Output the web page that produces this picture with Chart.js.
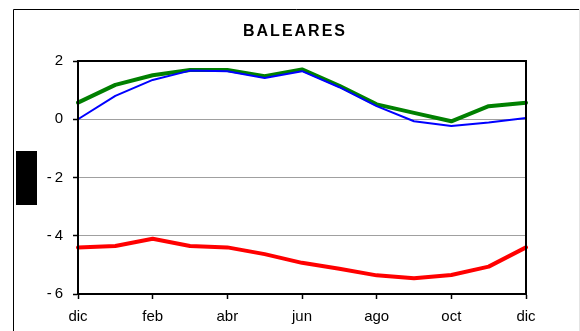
<!DOCTYPE html>
<html>
<head>
<meta charset="utf-8">
<script src="https://cdn.jsdelivr.net/npm/chart.js@4"></script>
<style>
  html, body { margin: 0; padding: 0; background: #fff; }
  #wrap { width: 580px; height: 331px; position: relative; }
</style>
</head>
<body>
<div id="wrap"><canvas id="chart"></canvas></div>
<script>
// months from dic to dic, only every other one gets a label
const months = ['dic', 'ene', 'feb', 'mar', 'abr', 'may', 'jun', 'jul', 'ago', 'sep', 'oct', 'nov', 'dic'];
const yTicks = [2, 0, -2, -4, -6];

const serieVerde = [0.57, 1.18, 1.51, 1.69, 1.69, 1.48, 1.71, 1.15, 0.51, 0.22, -0.07, 0.45, 0.57];
const serieAzul = [0.00, 0.80, 1.35, 1.67, 1.65, 1.42, 1.65, 1.10, 0.45, -0.07, -0.23, -0.11, 0.04];
const serieRoja = [-4.40, -4.35, -4.10, -4.35, -4.40, -4.63, -4.93, -5.13, -5.36, -5.46, -5.35, -5.06, -4.40];

const TITLE = 'BALEARES';
const FONT = '"Liberation Sans", Arial, sans-serif';

// frame around the whole chart, the black block on the left, box round the plot and the title
const decor = {
  id: 'decor',
  beforeDraw(chart) {
    const ctx = chart.ctx;
    ctx.save();
    ctx.fillStyle = '#fff';
    ctx.fillRect(0, 0, chart.width, chart.height);
    ctx.strokeStyle = '#000';
    ctx.lineWidth = 1;
    ctx.beginPath();
    ctx.moveTo(13.5, chart.height);
    ctx.lineTo(13.5, 9.5);
    ctx.lineTo(579, 9.5);
    ctx.stroke();
    ctx.strokeStyle = '#e4e4e4';
    ctx.beginPath();
    ctx.moveTo(579.5, 9);
    ctx.lineTo(579.5, chart.height);
    ctx.stroke();
    ctx.fillStyle = '#000';
    ctx.fillRect(16, 151, 21, 54);
    ctx.restore();
  },
  afterDraw(chart) {
    const ctx = chart.ctx;
    const a = chart.chartArea;
    ctx.save();
    ctx.strokeStyle = '#000';
    ctx.lineWidth = 2;
    ctx.strokeRect(a.left, a.top, a.right - a.left, a.bottom - a.top);
    ctx.fillStyle = '#000';
    ctx.font = 'bold 16px ' + FONT;
    ctx.letterSpacing = '2px';
    ctx.textAlign = 'center';
    ctx.textBaseline = 'alphabetic';
    ctx.fillText(TITLE, 295, 36);
    ctx.restore();
  }
};

new Chart(document.getElementById('chart'), {
  type: 'line',
  data: {
    labels: months,
    datasets: [
      { data: serieAzul, borderColor: '#0000ff', borderWidth: 2 },
      { data: serieVerde, borderColor: '#008000', borderWidth: 4 },
      { data: serieRoja, borderColor: '#ff0000', borderWidth: 4 }
    ]
  },
  options: {
    responsive: true,
    maintainAspectRatio: false,
    animation: false,
    layout: { padding: { left: 0, top: 61, right: 54, bottom: 0 } },
    elements: {
      point: { radius: 0 },
      line: { tension: 0, borderJoinStyle: 'round', borderCapStyle: 'round' }
    },
    plugins: {
      legend: { display: false },
      tooltip: { enabled: false }
    },
    scales: {
      x: {
        offset: false,
        grid: {
          drawOnChartArea: false,
          tickLength: 5,
          tickColor: c => (c.index % 2 ? 'rgba(0,0,0,0)' : '#000'),
          tickWidth: 1.5
        },
        border: { color: '#000', width: 2 },
        ticks: {
          autoSkip: false,
          maxRotation: 0,
          padding: 9,
          color: '#000',
          font: { family: FONT, size: 15 },
          callback: (v, i) => (i % 2 ? '' : months[i])
        },
        afterFit: s => { s.height = 37; }
      },
      y: {
        min: -6,
        max: 2,
        afterBuildTicks: s => { s.ticks = yTicks.map(v => ({ value: v })); },
        grid: {
          color: c => (c.tick && (c.tick.value === 2 || c.tick.value === -6) ? 'rgba(0,0,0,0)' : '#a0a0a0'),
          lineWidth: 1,
          tickLength: 5,
          tickColor: '#000',
          tickWidth: 1.5
        },
        border: { color: '#000', width: 2 },
        ticks: {
          padding: 10,
          color: '#000',
          font: { family: FONT, size: 15 },
          callback: v => (v < 0 ? '-\u2009' + Math.abs(v) : String(v))
        },
        afterFit: s => { s.width = 78; }
      }
    }
  },
  plugins: [decor]
});
</script>
</body>
</html>
